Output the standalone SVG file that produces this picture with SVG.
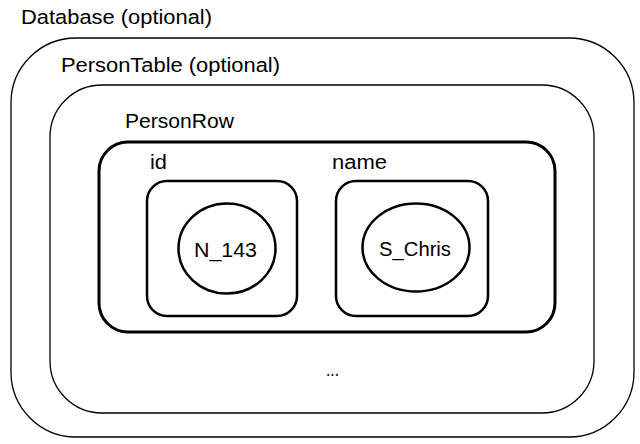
<svg xmlns="http://www.w3.org/2000/svg" width="640" height="444" viewBox="0 0 640 444">
<style>
.thin{fill:none;stroke:#000;stroke-width:1.3}
.thick{fill:none;stroke:#000;stroke-width:3}
.med{fill:none;stroke:#000;stroke-width:2.5}
text{font-family:"Liberation Sans",Arial,sans-serif;font-size:20px;fill:#000}
</style>
<rect width="640" height="444" fill="#fff"/>
<g id="database">
<rect class="thin" x="11" y="38" width="623" height="399" rx="65" ry="65"/>
<text x="21" y="24" textLength="191" lengthAdjust="spacingAndGlyphs">Database (optional)</text>
</g>
<g id="personTable">
<rect class="thin" x="50" y="85" width="544" height="328" rx="52" ry="52"/>
<text x="61" y="72" textLength="219" lengthAdjust="spacingAndGlyphs">PersonTable (optional)</text>
<text x="326" y="376" textLength="13" lengthAdjust="spacingAndGlyphs">...</text>
</g>
<g id="personRow">
<rect class="thick" x="99" y="142" width="456" height="190" rx="29" ry="29"/>
<text x="125" y="128" textLength="109" lengthAdjust="spacingAndGlyphs">PersonRow</text>
</g>
<g id="id">
<rect class="med" x="147" y="181" width="150" height="135" rx="20" ry="20"/>
<text x="150" y="169" textLength="17" lengthAdjust="spacingAndGlyphs">id</text>
</g>
<g id="name">
<rect class="med" x="336" y="181" width="152" height="135" rx="20" ry="20"/>
<text x="332" y="169" textLength="55" lengthAdjust="spacingAndGlyphs">name</text>
</g>
<g id="n143">
<ellipse class="med" cx="227" cy="248.5" rx="48.5" ry="45"/>
<text x="194" y="257" textLength="63" lengthAdjust="spacingAndGlyphs">N_143</text>
</g>
<g id="schris">
<ellipse class="med" cx="416" cy="247.5" rx="53.5" ry="44"/>
<text x="379" y="256" textLength="72" lengthAdjust="spacingAndGlyphs">S_Chris</text>
</g>
<g id="connectors"></g>
</svg>
